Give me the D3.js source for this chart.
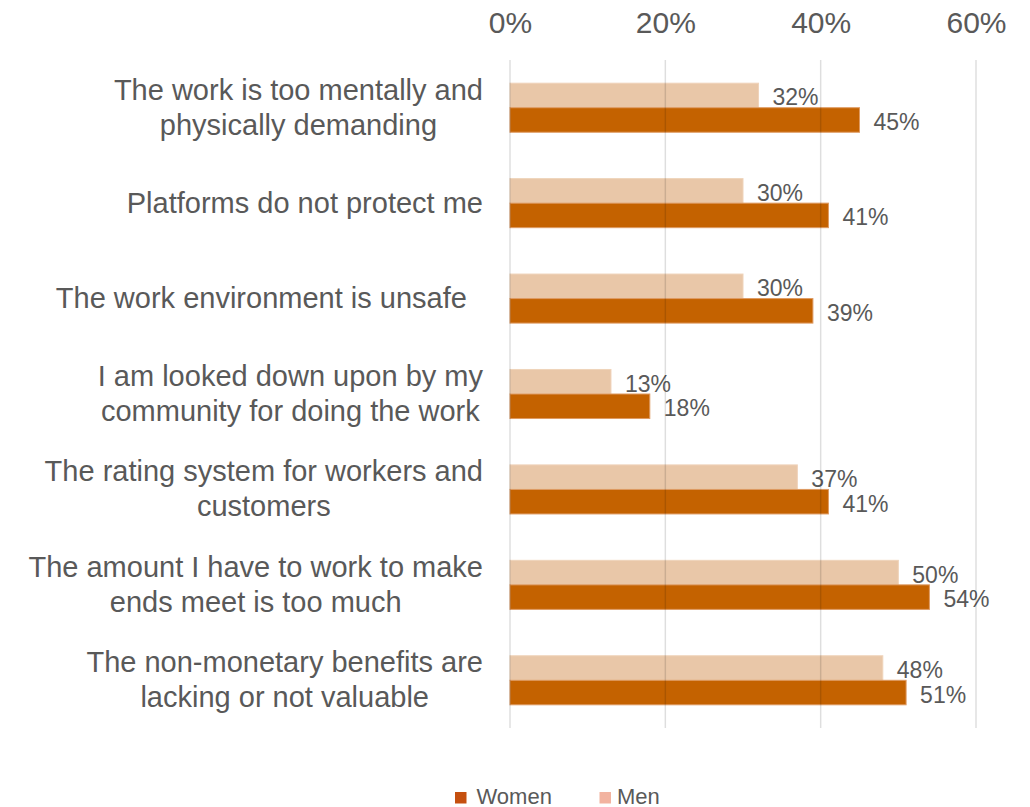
<!DOCTYPE html>
<html>
<head>
<meta charset="utf-8">
<script src="https://cdn.jsdelivr.net/npm/d3@7"></script>
<style>
  html, body { margin: 0; padding: 0; background: #fff; }
  svg { display: block; font-family: "Liberation Sans", Arial, sans-serif; }
</style>
</head>
<body>
<svg id="chart" width="1030" height="807"></svg>
<script>
const categories = [
  "The work is too mentally and\nphysically demanding",
  "Platforms do not protect me",
  "The work environment is unsafe  ",
  "I am looked down upon by my\ncommunity for doing the work",
  "The rating system for workers and\ncustomers",
  "The amount I have to work to make\nends meet is too much",
  "The non-monetary benefits are\nlacking or not valuable"
];
const seriesNames = ["Men", "Women"];
const menValues = [32, 30, 30, 13, 37, 50, 48];
const womenValues = [45, 41, 39, 18, 41, 54, 51];
const tickValues = [0, 20, 40, 60];
const legendOrder = ["Women", "Men"];

const barColors = { Men: "#E9C7A8", Women: "#C46200" };
const barStroke = { Men: "#EFD3BA", Women: "#DE9A62" };
const legendColors = { Women: "#C5500F", Men: "#F2B3A0" };
const textColor = "#595959";

const svg = d3.select("#chart");

const x = d3.scaleLinear().domain([0, 60]).range([510, 976]);
const y = d3.scaleBand().domain(categories).range([60, 728])
  .paddingInner(0.486).paddingOuter(0.243);
const y1 = d3.scaleBand().domain(seriesNames).range([0, y.bandwidth()]);

const rows = categories.map((c, i) => ({ cat: c, Men: menValues[i], Women: womenValues[i] }));

// Bars
const groups = svg.append("g").selectAll("g").data(rows).join("g")
  .attr("transform", d => `translate(0,${y(d.cat)})`);

groups.selectAll("rect").data(d => seriesNames.map(s => ({ s, v: d[s] }))).join("rect")
  .attr("x", x(0))
  .attr("y", d => y1(d.s))
  .attr("width", d => x(d.v) - x(0))
  .attr("height", y1.bandwidth())
  .attr("fill", d => barColors[d.s])
  .attr("stroke", d => barStroke[d.s])
  .attr("stroke-width", 1);

groups.selectAll("text.val").data(d => seriesNames.map(s => ({ s, v: d[s] }))).join("text")
  .attr("class", "val")
  .attr("x", d => x(d.v) + 14)
  .attr("y", d => y1(d.s) + y1.bandwidth() / 2 + 10)
  .attr("font-size", 23)
  .attr("fill", textColor)
  .text(d => d.v + "%");

// Gridlines (drawn on top, translucent)
svg.append("g").selectAll("line").data(tickValues).join("line")
  .attr("x1", d => x(d)).attr("x2", d => x(d))
  .attr("y1", 60).attr("y2", 728)
  .attr("stroke", "rgba(0,0,0,0.13)")
  .attr("stroke-width", 1.5);

// Top axis
const axis = d3.axisTop(x).tickValues(tickValues).tickFormat(d => d + "%").tickSize(0).tickPadding(0);
const ax = svg.append("g").attr("transform", "translate(0,33)").call(axis);
ax.select(".domain").remove();
ax.selectAll("text").attr("font-size", 30).attr("fill", textColor)
  .attr("font-family", "'Liberation Sans', Arial, sans-serif").attr("dy", 0);

// Category labels
const lineH = 35;
const labelRight = 483;
const labels = svg.append("g").selectAll("text").data(categories).join("text")
  .attr("font-size", 29)
  .attr("fill", textColor)
  .attr("text-anchor", "middle")
  .style("white-space", "pre")
  .attr("xml:space", "preserve");

labels.each(function(c) {
  const t = d3.select(this);
  const lines = c.split("\n");
  const cy = y(c) + y.bandwidth() / 2;
  lines.forEach((ln, i) => {
    t.append("tspan")
      .attr("y", cy + (i - (lines.length - 1) / 2) * lineH + 9.5)
      .text(ln);
  });
  let maxW = 0;
  t.selectAll("tspan").each(function() { maxW = Math.max(maxW, this.getComputedTextLength()); });
  t.selectAll("tspan").attr("x", labelRight - maxW / 2);
});

// Legend
const legendX = { Women: 455, Men: 599.5 };
const leg = svg.append("g").selectAll("g").data(legendOrder).join("g")
  .attr("transform", d => `translate(${legendX[d]},792)`);
leg.append("rect").attr("width", 11.5).attr("height", 11.5).attr("fill", d => legendColors[d]);
leg.append("text").attr("x", d => d === "Women" ? 21.5 : 17.5).attr("y", 11.5)
  .attr("font-size", 22).attr("fill", textColor).text(d => d);
</script>
</body>
</html>
